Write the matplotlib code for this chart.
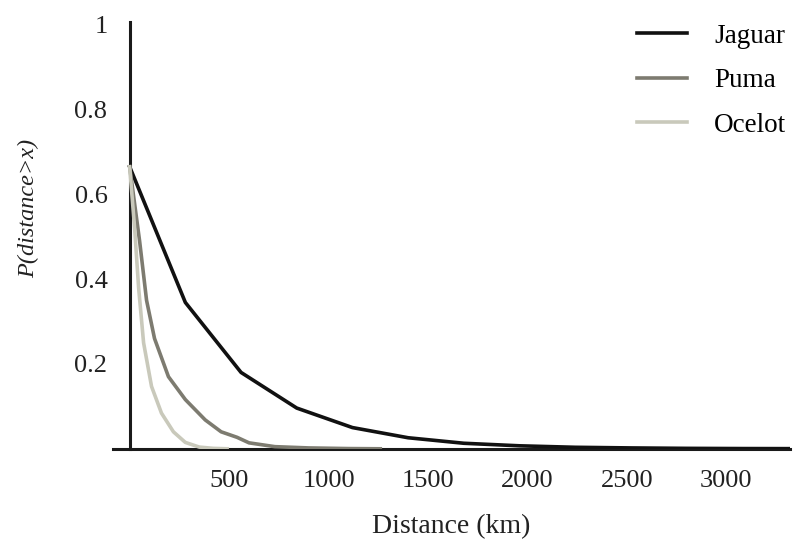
import matplotlib.pyplot as plt

# survival curves P(distance > x)
jaguar_x = [0, 280, 560, 840, 1120, 1400, 1680, 1960, 2240, 2520, 2800, 3080, 3360]
jaguar_y = [0.665, 0.345, 0.18, 0.096, 0.05, 0.026, 0.013, 0.007, 0.0035, 0.002, 0.001, 0.0005, 0.0003]

puma_x = [0, 50, 85, 125, 195, 280, 380, 460, 540, 600, 730, 900, 1100, 1260]
puma_y = [0.665, 0.49, 0.35, 0.26, 0.17, 0.116, 0.068, 0.04, 0.027, 0.014, 0.005, 0.002, 0.0005, 0.0]

ocelot_x = [0, 25, 45, 70, 110, 160, 220, 280, 350, 420, 490]
ocelot_y = [0.665, 0.52, 0.38, 0.25, 0.147, 0.084, 0.04, 0.015, 0.004, 0.001, 0.0]

xticks = [500, 1000, 1500, 2000, 2500, 3000]
yticks = [0.2, 0.4, 0.6, 0.8, 1]


def main():
    plt.rcParams['font.family'] = ['Liberation Serif', 'DejaVu Serif']
    fig = plt.figure(figsize=(7.94, 5.42), dpi=100)
    ax = fig.add_axes([0.142, 0.172, 0.853, 0.788])

    ax.plot(jaguar_x, jaguar_y, color='#111111', lw=2.6, label='Jaguar')
    ax.plot(puma_x, puma_y, color='#7d7b70', lw=2.6, label='Puma')
    ax.plot(ocelot_x, ocelot_y, color='#c9c9bb', lw=2.6, label='Ocelot')

    ax.set_xlim(-85, 3320)
    ax.set_ylim(0, 1.007)
    ax.spines['left'].set_position(('data', 0))
    ax.spines['right'].set_visible(False)
    ax.spines['top'].set_visible(False)
    for s in ('left', 'bottom'):
        ax.spines[s].set_linewidth(2.2)
        ax.spines[s].set_color('#1a1a1a')
        ax.spines[s].set_zorder(0)

    ax.set_xticks(xticks)
    ax.set_xticklabels([str(t) for t in xticks])
    ax.set_yticks(yticks)
    ax.set_yticklabels(['0.2', '0.4', '0.6', '0.8', '1'])
    ax.tick_params(axis='both', length=0, labelsize=19, colors='#222222')
    ax.tick_params(axis='y', pad=16)
    ax.tick_params(axis='x', pad=15)

    ax.set_xlabel('Distance (km)', fontsize=20, color='#222222', labelpad=16)
    ax.set_ylabel('P(distance>x)', fontsize=17.5, style='italic', color='#222222')
    ax.yaxis.set_label_coords(-0.108, 0.562)

    ax.legend(loc='upper right', bbox_to_anchor=(1.021, 1.001), bbox_transform=fig.transFigure,
              frameon=False, fontsize=19.5, handlelength=1.85, handletextpad=1.0, labelspacing=0.72)

    fig.savefig('out.png', dpi=100)


if __name__ == "__main__":
    main()
